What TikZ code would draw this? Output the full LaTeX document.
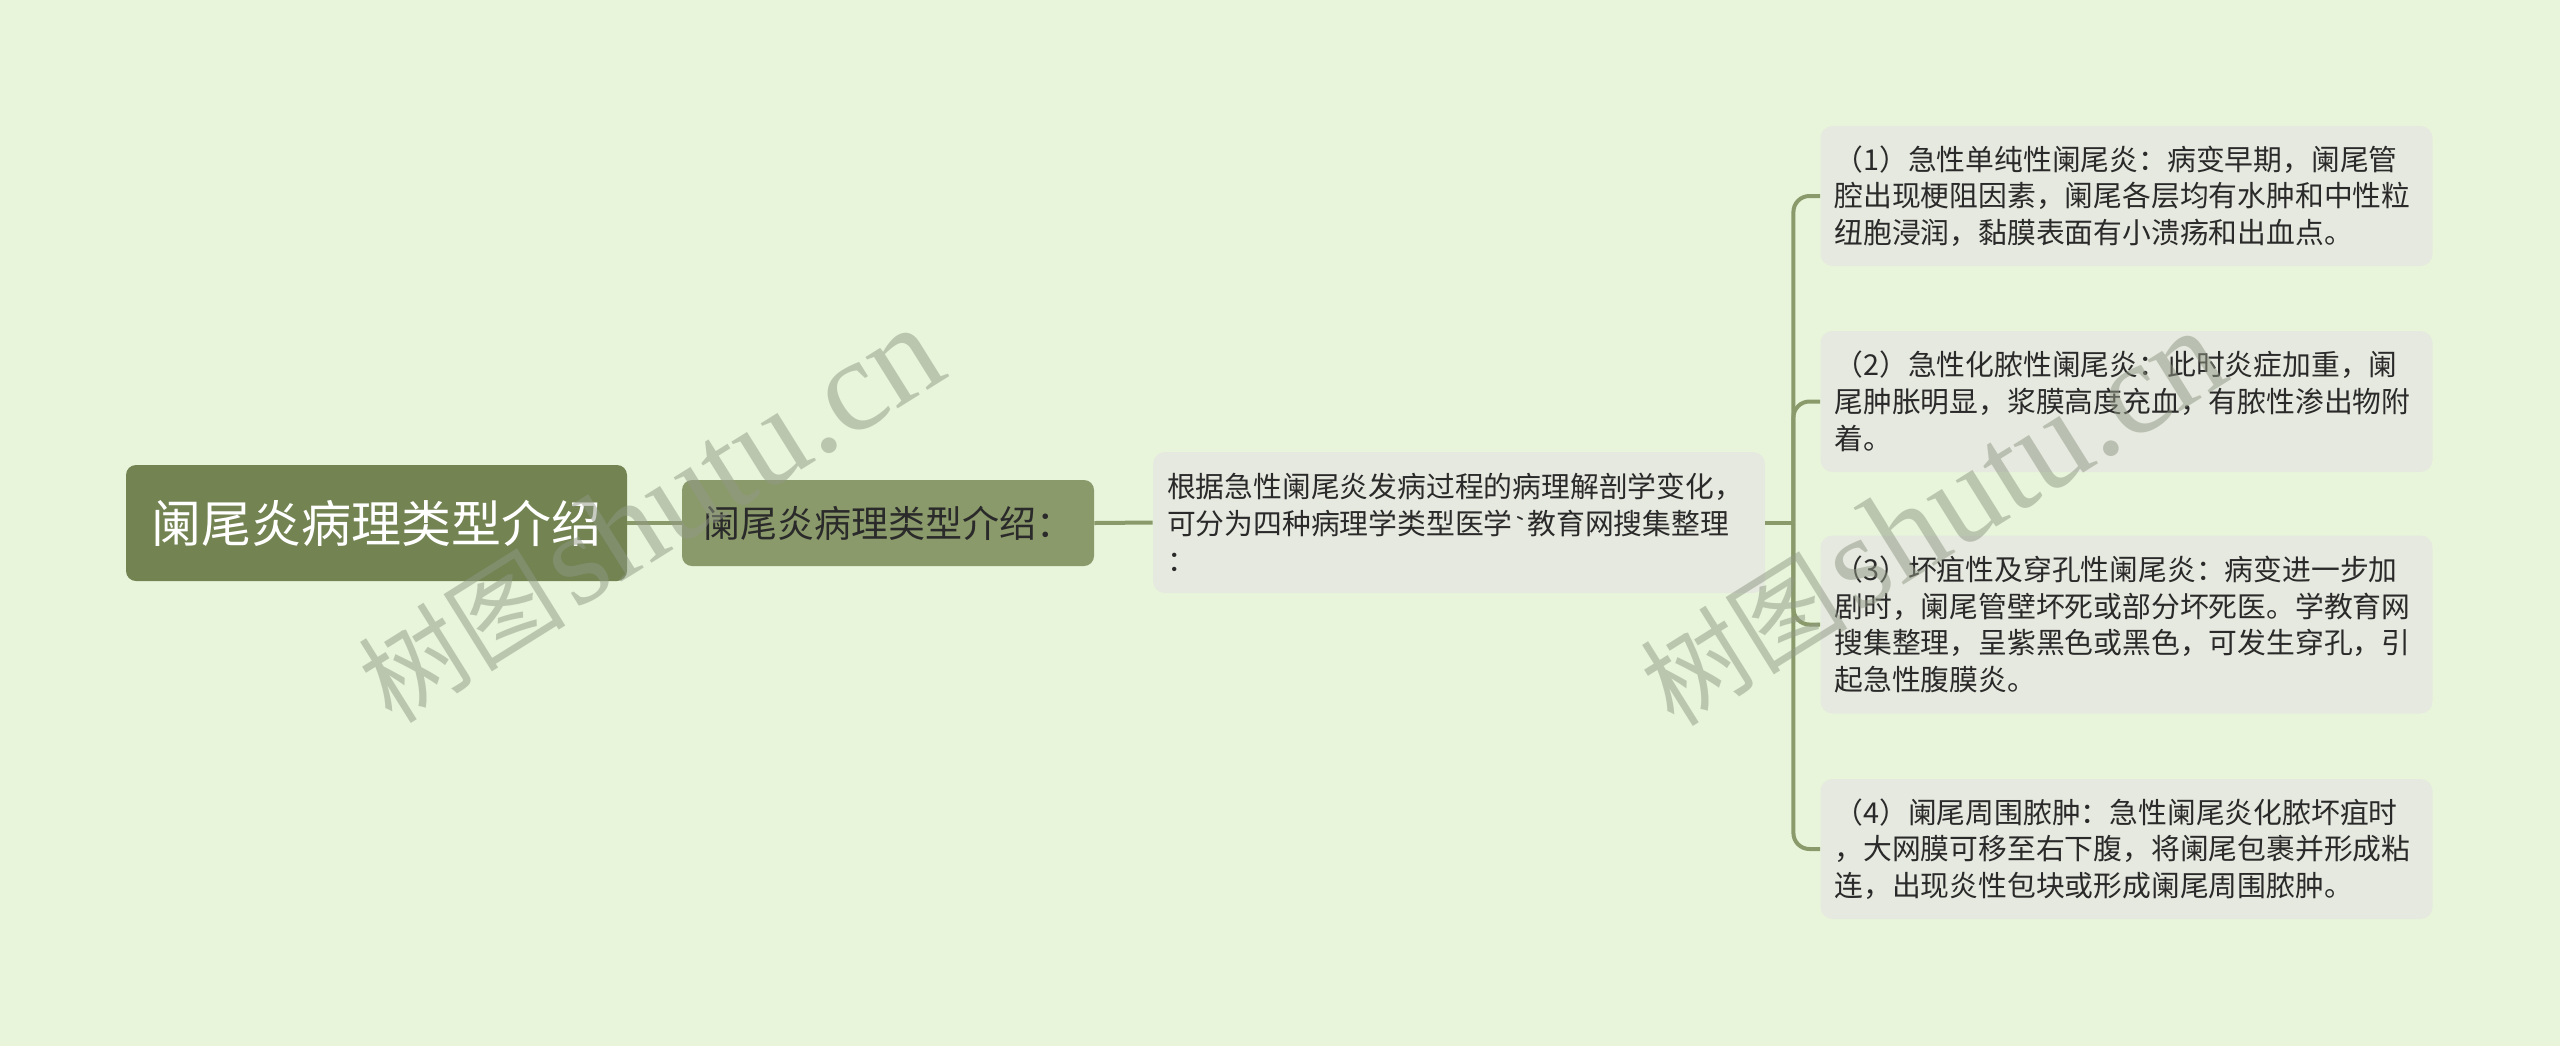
\documentclass[tikz,border=0pt]{standalone}
\usepackage{fontspec}
\newfontfamily\cjk{Noto Sans CJK SC}
\newfontfamily\wmlat{Liberation Serif}
\definecolor{bg}{HTML}{E8F5DB}
\definecolor{rootc}{HTML}{738352}
\definecolor{subc}{HTML}{8B9A6B}
\definecolor{leafc}{HTML}{E6E9DF}
\definecolor{linec}{HTML}{8A9A6A}
\definecolor{txt}{HTML}{2A2A2A}
\definecolor{wmc}{HTML}{909985}
\begin{document}
\begin{tikzpicture}[x=0.5pt,y=-0.5pt,
  rootbox/.style={fill=rootc, rounded corners=5pt, minimum width=250.5pt, minimum height=58pt,
    inner sep=0pt, text=white, font={\cjk\fontsize{25}{30}\selectfont}},
  subbox/.style={fill=subc, rounded corners=5pt, minimum width=206pt, minimum height=43pt,
    inner sep=0pt, text=txt, font={\cjk\fontsize{18.5}{22}\selectfont}},
  leafbox/.style={fill=leafc, rounded corners=6pt, text width=292pt, inner xsep=7pt, inner ysep=0pt,
    align=left, text=txt, font={\cjk\fontsize{14.4}{18.35}\selectfont}},
  conn/.style={draw=linec, line width=2pt},
  wmark/.style={text=wmc, opacity=0.5, inner sep=0pt}
]
\fill[bg] (0,0) rectangle (2560,1046);
\useasboundingbox (0,0) rectangle (2560,1046);

\node[rootbox] (root) at (376.5,523) {阑尾炎病理类型介绍};
\node[subbox] (sub) at (888,523) {阑尾炎病理类型介绍：};
\node[leafbox, minimum height=70.5pt] (mid) at (1459,522.5) {根据急性阑尾炎发病过程的病理解剖学变化，\\可分为四种病理学类型医学{\ttfamily\char96}教育网搜集整理\\：};

\node[leafbox, minimum height=70pt] (l1) at (2126.5,196) {（1）急性单纯性阑尾炎：病变早期，阑尾管\\腔出现梗阻因素，阑尾各层均有水肿和中性粒\\纽胞浸润，黏膜表面有小溃疡和出血点。};
\node[leafbox, minimum height=70.5pt] (l2) at (2126.5,401.5) {（2）急性化脓性阑尾炎：此时炎症加重，阑\\尾肿胀明显，浆膜高度充血，有脓性渗出物附\\着。};
\node[leafbox, minimum height=89pt] (l3) at (2126.5,624.5) {（3）坏疽性及穿孔性阑尾炎：病变进一步加\\剧时，阑尾管壁坏死或部分坏死医。学教育网\\搜集整理，呈紫黑色或黑色，可发生穿孔，引\\起急性腹膜炎。};
\node[leafbox, minimum height=70pt] (l4) at (2126.5,849) {（4）阑尾周围脓肿：急性阑尾炎化脓坏疽时\\，大网膜可移至右下腹，将阑尾包裹并形成粘\\连，出现炎性包块或形成阑尾周围脓肿。};

\draw[conn] (root.east) -- (sub.west);
\draw[conn] (sub.east) -- (mid.west);
\coordinate (sp) at ([xshift=14pt]mid.east);
\draw[conn] (mid.east) -- (sp);
\foreach \c in {l1,l2,l3,l4}
  \draw[conn, rounded corners=8pt] (sp) |- (\c.west);

\node[wmark, rotate=32] (wm1) at (650,515) {{\cjk\fontsize{52}{56}\selectfont 树图}\hspace{4pt}{\wmlat\fontsize{66}{66}\selectfont shutu.cn}};
\node[wmark, rotate=32] (wm2) at (1932,518) {{\cjk\fontsize{52}{56}\selectfont 树图}\hspace{4pt}{\wmlat\fontsize{66}{66}\selectfont shutu.cn}};
\end{tikzpicture}
\end{document}
